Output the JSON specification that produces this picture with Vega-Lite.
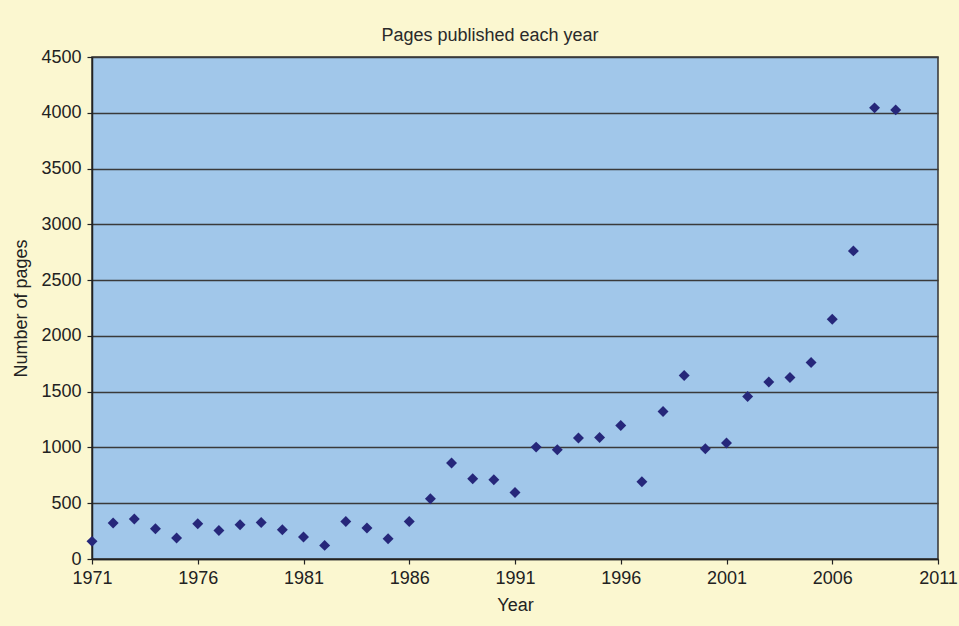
{
  "$schema": "https://vega.github.io/schema/vega-lite/v6.json",
  "width": 846,
  "height": 502,
  "autosize": {"type": "none"},
  "padding": {"left": 92, "top": 57, "right": 21, "bottom": 67},
  "background": "#FBF7D0",
  "title": {
    "text": "Pages published each year",
    "font": "Liberation Sans",
    "fontSize": 18,
    "fontWeight": "normal",
    "color": "#2a2a2a",
    "anchor": "middle",
    "dx": -25,
    "baseline": "alphabetic",
    "offset": -11
  },
  "data": {
    "values": [
      {"year": 1971, "pages": 158},
      {"year": 1972, "pages": 323},
      {"year": 1973, "pages": 358},
      {"year": 1974, "pages": 271},
      {"year": 1975, "pages": 188},
      {"year": 1976, "pages": 316},
      {"year": 1977, "pages": 256},
      {"year": 1978, "pages": 307},
      {"year": 1979, "pages": 328},
      {"year": 1980, "pages": 262},
      {"year": 1981, "pages": 197},
      {"year": 1982, "pages": 122},
      {"year": 1983, "pages": 337},
      {"year": 1984, "pages": 278},
      {"year": 1985, "pages": 182},
      {"year": 1986, "pages": 337},
      {"year": 1987, "pages": 540},
      {"year": 1988, "pages": 860},
      {"year": 1989, "pages": 719},
      {"year": 1990, "pages": 711},
      {"year": 1991, "pages": 597},
      {"year": 1992, "pages": 1003},
      {"year": 1993, "pages": 979},
      {"year": 1994, "pages": 1084},
      {"year": 1995, "pages": 1090},
      {"year": 1996, "pages": 1197},
      {"year": 1997, "pages": 693},
      {"year": 1998, "pages": 1322},
      {"year": 1999, "pages": 1645},
      {"year": 2000, "pages": 988},
      {"year": 2001, "pages": 1039},
      {"year": 2002, "pages": 1457},
      {"year": 2003, "pages": 1586},
      {"year": 2004, "pages": 1627},
      {"year": 2005, "pages": 1762},
      {"year": 2006, "pages": 2150},
      {"year": 2007, "pages": 2762},
      {"year": 2008, "pages": 4044},
      {"year": 2009, "pages": 4026}
    ]
  },
  "mark": {"type": "point", "shape": "diamond", "filled": true, "size": 120, "color": "#26277A", "opacity": 1},
  "encoding": {
    "x": {
      "field": "year",
      "type": "quantitative",
      "title": "Year",
      "scale": {"domain": [1971, 2011], "nice": false, "zero": false},
      "axis": {
        "values": [1971, 1976, 1981, 1986, 1991, 1996, 2001, 2006, 2011],
        "format": "d",
        "grid": false,
        "labelPadding": 5,
        "titlePadding": 9
      }
    },
    "y": {
      "field": "pages",
      "type": "quantitative",
      "title": "Number of pages",
      "scale": {"domain": [0, 4500], "nice": false},
      "axis": {
        "values": [0, 500, 1000, 1500, 2000, 2500, 3000, 3500, 4000, 4500],
        "format": "d",
        "grid": true,
        "labelPadding": 6,
        "titlePadding": 10
      }
    }
  },
  "config": {
    "view": {"fill": "#A1C7EA", "stroke": "#333333", "strokeWidth": 1.5},
    "axis": {
      "labelFont": "Liberation Sans",
      "labelFontSize": 18,
      "labelColor": "#222222",
      "titleFont": "Liberation Sans",
      "titleFontSize": 18,
      "titleFontWeight": "normal",
      "titleColor": "#222222",
      "domainColor": "#222222",
      "domainWidth": 1.5,
      "tickColor": "#222222",
      "tickWidth": 1.2,
      "tickSize": 5,
      "gridColor": "#3a3a3a",
      "gridWidth": 1.5,
      "gridOpacity": 1,
      "labelFlush": false
    }
  }
}
